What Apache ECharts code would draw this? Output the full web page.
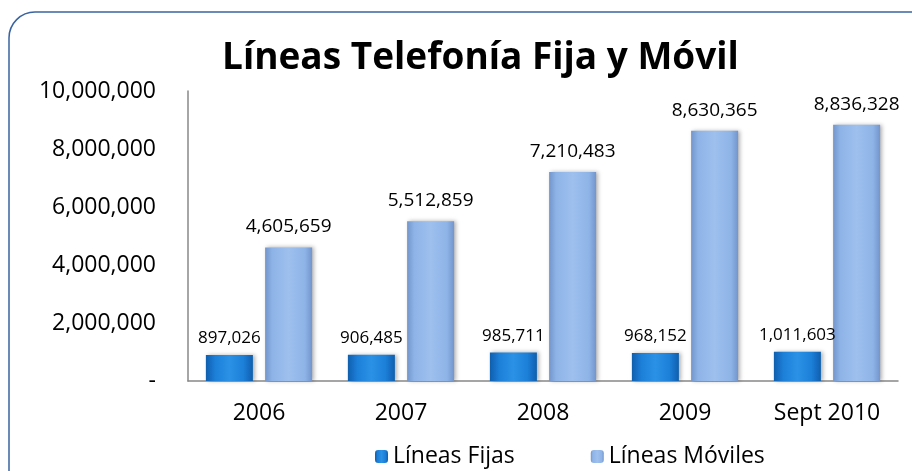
<!DOCTYPE html>
<html>
<head>
<meta charset="utf-8">
<style>
  html, body { margin: 0; padding: 0; background: #fff; }
  #chart { width: 912px; height: 471px; }
</style>
<script src="https://cdn.jsdelivr.net/npm/echarts@6/dist/echarts.min.js"></script>
</head>
<body>
<div id="chart"></div>
<script>
// categorías del eje x
const years = ['2006', '2007', '2008', '2009', 'Sept 2010']
// líneas fijas
const fijas = [897026, 906485, 985711, 968152, 1011603]
// líneas móviles
const moviles = [4605659, 5512859, 7210483, 8630365, 8836328]
const yTicks = [0, 2000000, 4000000, 6000000, 8000000, 10000000]

const fontFam = '"Open Sans", "Noto Sans", sans-serif'
const fmt = v => v === 0 ? '-' : v.toLocaleString('en-US')

const chart = echarts.init(document.getElementById('chart'))

const fijaColor = new echarts.graphic.LinearGradient(0, 0, 1, 0, [
  { offset: 0, color: '#0F5FAE' },
  { offset: 0.2, color: '#1C7FD8' },
  { offset: 0.5, color: '#2A92E6' },
  { offset: 0.8, color: '#1C7FD8' },
  { offset: 1, color: '#0F5FAE' }
])
const movilColor = new echarts.graphic.LinearGradient(0, 0, 1, 0, [
  { offset: 0, color: '#7296CC' },
  { offset: 0.15, color: '#8EB3E6' },
  { offset: 0.5, color: '#9DC0EE' },
  { offset: 0.85, color: '#8EB3E6' },
  { offset: 1, color: '#7296CC' }
])

const option = {
  animation: false,
  title: {
    text: 'Líneas Telefonía Fija y Móvil',
    left: 217,
    top: 35,
    textStyle: { fontFamily: fontFam, fontSize: 37, fontWeight: 'bold', color: '#000' }
  },
  graphic: [{
    type: 'rect',
    shape: { x: 9, y: 12, width: 930, height: 490, r: 26 },
    style: { fill: 'none', stroke: '#3A64A0', lineWidth: 1.5 },
    z: -1
  }],
  legend: {
    bottom: -2,
    left: 370,
    itemGap: 76,
    itemWidth: 13,
    itemHeight: 13,
    textStyle: { fontFamily: fontFam, fontSize: 23, color: '#000' },
    data: ['Líneas Fijas', 'Líneas Móviles']
  },
  grid: { left: 188, right: 14, top: 91, bottom: 90 },
  xAxis: {
    type: 'category',
    data: years,
    axisLine: { lineStyle: { color: '#888', width: 1.5 } },
    axisTick: { show: false },
    axisLabel: { fontFamily: fontFam, fontSize: 23, color: '#000', margin: 21 }
  },
  yAxis: {
    type: 'value',
    min: 0,
    max: 10000000,
    interval: 2000000,
    splitLine: { show: false },
    axisLine: { show: true, lineStyle: { color: '#888', width: 1.5 } },
    axisTick: { show: false },
    axisLabel: {
      fontFamily: fontFam, fontSize: 23, color: '#000', margin: 32,
      formatter: v => fmt(v)
    }
  },
  series: [
    {
      name: 'Líneas Fijas',
      type: 'bar',
      data: fijas,
      barWidth: 47,
      barGap: '26%',
      itemStyle: {
        color: fijaColor,
        shadowColor: 'rgba(0,0,0,0.3)', shadowBlur: 4, shadowOffsetX: 2
      },
      label: {
        show: true, position: 'top', distance: 8,
        fontFamily: fontFam, fontSize: 17, color: '#000',
        formatter: p => fmt(p.value)
      }
    },
    {
      name: 'Líneas Móviles',
      type: 'bar',
      data: moviles,
      barWidth: 47,
      itemStyle: {
        color: movilColor,
        shadowColor: 'rgba(0,0,0,0.3)', shadowBlur: 4, shadowOffsetX: 2
      },
      label: {
        show: true, position: 'top', distance: 11,
        fontFamily: fontFam, fontSize: 19, color: '#000',
        formatter: p => fmt(p.value)
      }
    }
  ]
}
chart.setOption(option)
window.addEventListener('resize', () => { chart.resize() })
</script>
</body>
</html>
